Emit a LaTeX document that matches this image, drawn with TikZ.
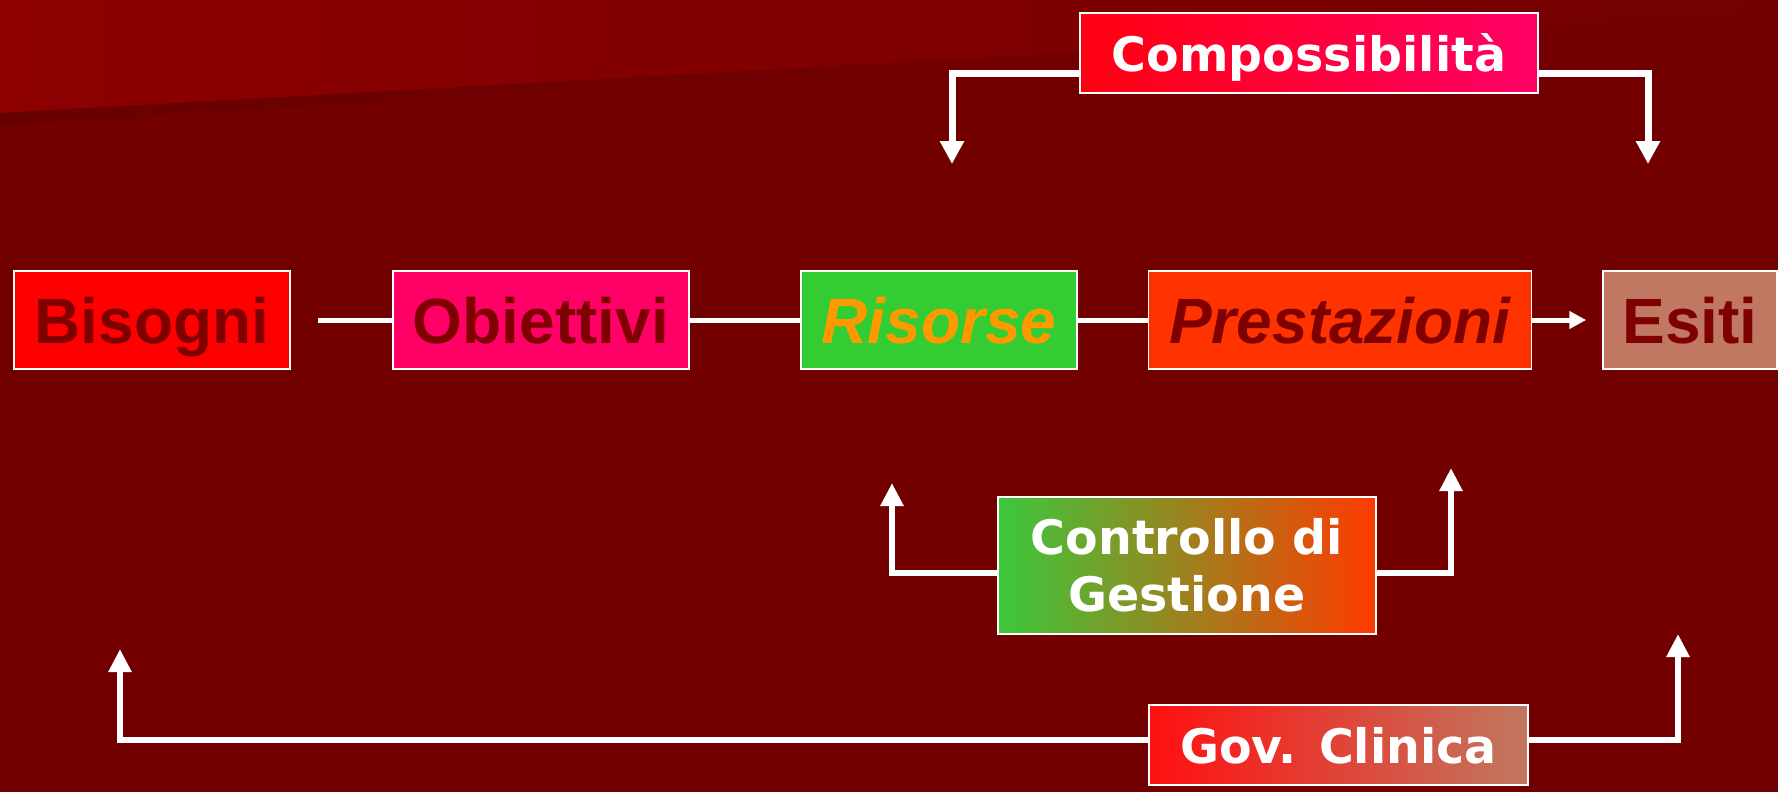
\documentclass[tikz,border=0pt]{standalone}
\usepackage{fontspec}
\usetikzlibrary{arrows.meta}
\newfontfamily\arialf{Liberation Sans}
\newfontfamily\dejaf{DejaVu Sans}
\definecolor{bg}{HTML}{730000}
\definecolor{bgtop}{HTML}{8C0000}
\definecolor{bgshadow}{HTML}{690000}
\definecolor{cTxt}{HTML}{7F0000}
\definecolor{cOra}{HTML}{FF9900}
\definecolor{cBis}{HTML}{FF0000}
\definecolor{cObi}{HTML}{FF0066}
\definecolor{cRis}{HTML}{33CC33}
\definecolor{cPre}{HTML}{FF3300}
\definecolor{cEsi}{HTML}{C07862}
\definecolor{cCompL}{HTML}{FF0010}
\definecolor{cCompR}{HTML}{FF0066}
\definecolor{cCtrL}{HTML}{3CC83C}
\definecolor{cCtrM}{HTML}{B8A22E}
\definecolor{cCtrR}{HTML}{FF3A00}
\definecolor{cGovL}{HTML}{FF1010}
\definecolor{cGovR}{HTML}{C07860}
\begin{document}
\begin{tikzpicture}[x=1pt,y=-1pt,
  mainbox/.style={draw=white, line width=1.5pt, minimum height=98pt, inner sep=0pt,
    text height=46pt, text depth=0pt, font=\arialf\bfseries\fontsize{64}{64}\selectfont},
  itbox/.style={font=\arialf\bfseries\itshape\fontsize{64}{64}\selectfont},
  lbl/.style={draw=white, line width=1.5pt, inner sep=0pt, text=white,
    font=\dejaf\bfseries\fontsize{47.5}{57}\selectfont},
  conn/.style={white, line width=5pt},
  fb/.style={white, line width=7pt, line join=miter, -{Triangle[length=23pt,width=23pt]}},
  fbs/.style={white, line width=6pt, line join=miter, -{Triangle[length=23pt,width=22pt]}}
]
\useasboundingbox (0,0) rectangle (1778,792);
% background
\fill[bg] (0,0) rectangle (1778,792);
\shade[left color=bgtop, right color=bg] (0,0) -- (1778,0) -- (1778,13) -- (0,113) -- cycle;
\shade[left color=bgshadow, right color=bg] (0,113) -- (1100,51) -- (1100,58) -- (0,126) -- cycle;

% main row
\node[mainbox, fill=cBis, text=cTxt, minimum width=276pt] (bis) at (152,320) {Bisogni};
\node[mainbox, fill=cObi, text=cTxt, minimum width=296pt] (obi) at (541,320) {Obiettivi};
\node[mainbox, itbox, fill=cRis, text=cOra, minimum width=276pt] (ris) at (939,320) {Risorse};
\node[mainbox, itbox, fill=cPre, text=cTxt, minimum width=383pt] (pre) at (1340,320) {Prestazioni};
\node[mainbox, fill=cEsi, text=cTxt, minimum width=174pt] (esi) at (1690,320) {Esiti};

\draw[conn] ([xshift=27pt]bis.east) -- (obi.west);
\draw[conn] (obi.east) -- (ris.west);
\draw[conn] (ris.east) -- (pre.west);
\draw[conn, -{Triangle[length=17pt,width=17pt]}, shorten >=16pt] (pre.east) -- (esi.west);

% Compossibilita
\node[lbl, left color=cCompL, right color=cCompR, minimum width=458pt, minimum height=80pt,
  text height=36.5pt, text depth=0pt] (comp) at (1309,53) {Compossibilità};
\coordinate (cL) at (952,164);
\coordinate (cLk) at (952,74);
\coordinate (cR) at (1648,164);
\coordinate (cRk) at (1648,74);
\draw[fb] (cLk -| comp.west) -- (cLk) -- (cL);
\draw[fb] (cRk -| comp.east) -- (cRk) -- (cR);

% Controllo di Gestione
\node[lbl, left color=cCtrL, middle color=cCtrM, right color=cCtrR, minimum width=378pt, minimum height=137pt,
  align=center] (ctr) at (1187,565.5) {Controllo di\\Gestione};
\coordinate (gL) at (892,483);
\coordinate (gLk) at (892,573);
\coordinate (gR) at (1451,468);
\coordinate (gRk) at (1451,573);
\draw[fbs] (gLk -| ctr.west) -- (gLk) -- (gL);
\draw[fbs] (gRk -| ctr.east) -- (gRk) -- (gR);

% Gov. Clinica
\node[lbl, left color=cGovL, right color=cGovR, minimum width=379pt, minimum height=80pt,
  text height=36.5pt, text depth=0pt] (gov) at (1338.5,745) {Gov. Clinica};
\coordinate (vL) at (120,649);
\coordinate (vLk) at (120,740);
\coordinate (vR) at (1678,634);
\coordinate (vRk) at (1678,740);
\draw[fbs] (vLk -| gov.west) -- (vLk) -- (vL);
\draw[fbs] (vRk -| gov.east) -- (vRk) -- (vR);
\end{tikzpicture}
\end{document}
